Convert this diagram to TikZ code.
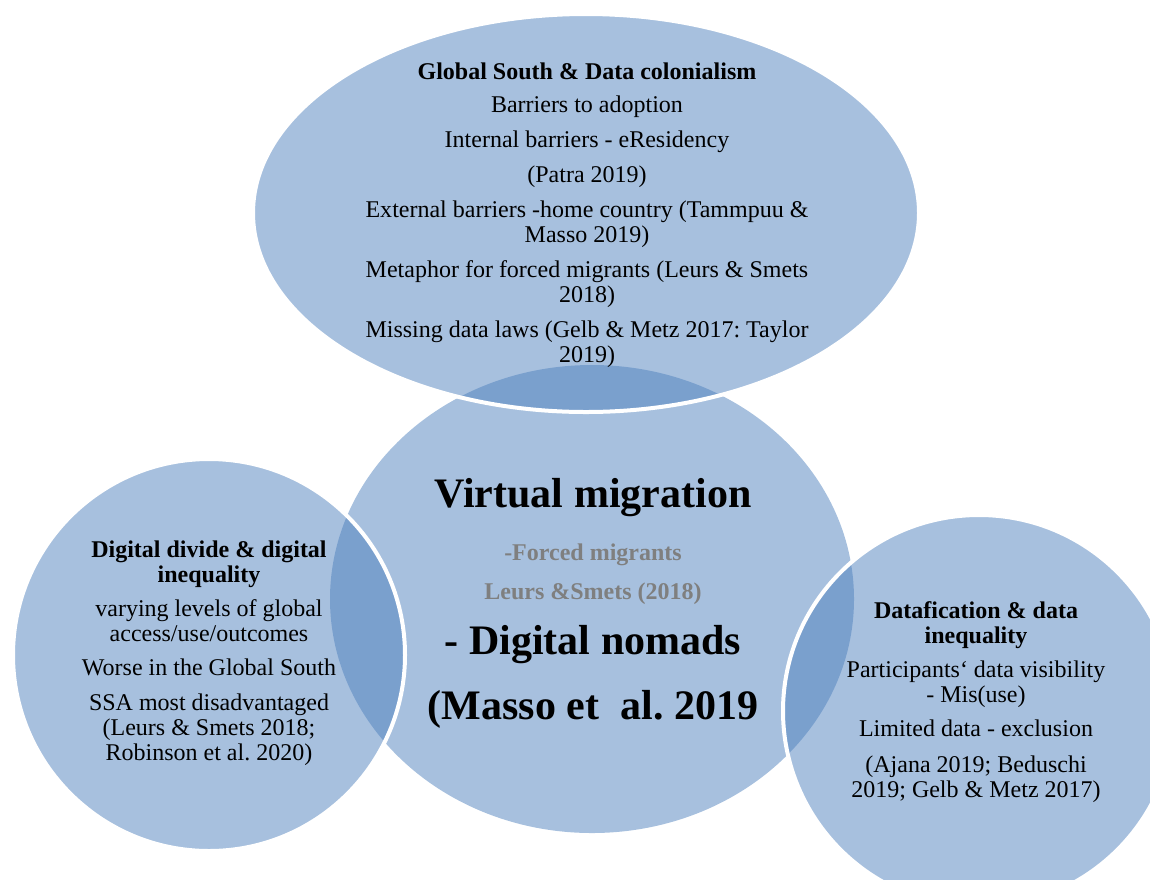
\documentclass[tikz,border=0pt]{standalone}
\usepackage{fontspec}
\setmainfont{Liberation Serif}
\usetikzlibrary{shapes.geometric}
\definecolor{accentblue}{RGB}{79,129,189}
\definecolor{notegray}{RGB}{127,127,127}
\tikzset{
  blob/.style = {ellipse, fill=accentblue, fill opacity=0.5, inner sep=0pt},
  rim/.style  = {draw=white, line width=4pt},
  body/.style = {align=center, inner sep=0pt, font=\fontsize{24}{25}\selectfont},
  big/.style  = {anchor=base, inner sep=0pt, font=\fontsize{42}{48}\selectfont\bfseries},
  cite/.style = {anchor=base, inner sep=0pt, text=notegray, font=\fontsize{24}{26}\selectfont\bfseries},
}
\frenchspacing

\begin{document}
\begin{tikzpicture}[x=1pt, y=-1pt]
  \useasboundingbox (0,0) rectangle (1150,879);
  \clip (0,0) rectangle (1150,879);

  %% centre circle first, the three others on top with white rims
  \node[blob, minimum width=524pt, minimum height=468pt] (mid) at (592,599) {};
  \node[blob, rim, minimum size=392pt] (divide) at (209,655) {};
  \node[blob, rim, minimum size=392pt] (dataf) at (979,711) {};
  \node[blob, rim, minimum width=666pt, minimum height=398pt] (south) at (586,213) {};

  %% top ellipse
  \node[body] (southtxt) at (587,215) {%
    \textbf{Global South \& Data colonialism}\\[8pt]
    Barriers to adoption\\[10pt]
    Internal barriers - eResidency\\[10pt]
    (Patra 2019)\\[10pt]
    External barriers -home country (Tammpuu \&\\
    Masso 2019)\\[10pt]
    Metaphor for forced migrants (Leurs \& Smets\\
    2018)\\[10pt]
    Missing data laws (Gelb \& Metz 2017: Taylor\\
    2019)};

  %% left circle
  \node[body] (dividetxt) at (209,653) {%
    \textbf{Digital divide \& digital}\\
    \textbf{inequality}\\[9pt]
    varying levels of global\\
    access/use/outcomes\\[9pt]
    Worse in the Global South\\[10pt]
    SSA most disadvantaged\\
    (Leurs \& Smets 2018;\\
    Robinson et al. 2020)};

  %% right circle
  \node[body] (datatxt) at (976,702) {%
    \textbf{Datafication \& data}\\
    \textbf{inequality}\\[9pt]
    Participants‘ data visibility\\
    - Mis(use)\\[9pt]
    Limited data - exclusion\\[11pt]
    (Ajana 2019; Beduschi\\
    2019; Gelb \& Metz 2017)};

  %% centre
  \node[big]  (vm)     at (593,507) {Virtual migration};
  \node[cite] (forced) at (593,560) {-Forced migrants};
  \node[cite] (leurs)  at (593,599) {Leurs \&Smets (2018)};
  \node[big]  (nomads) at (593,654) {- Digital nomads};
  \node[big]  (masso)  at (593,719) {(Masso et\ \ al. 2019};
\end{tikzpicture}
\end{document}
